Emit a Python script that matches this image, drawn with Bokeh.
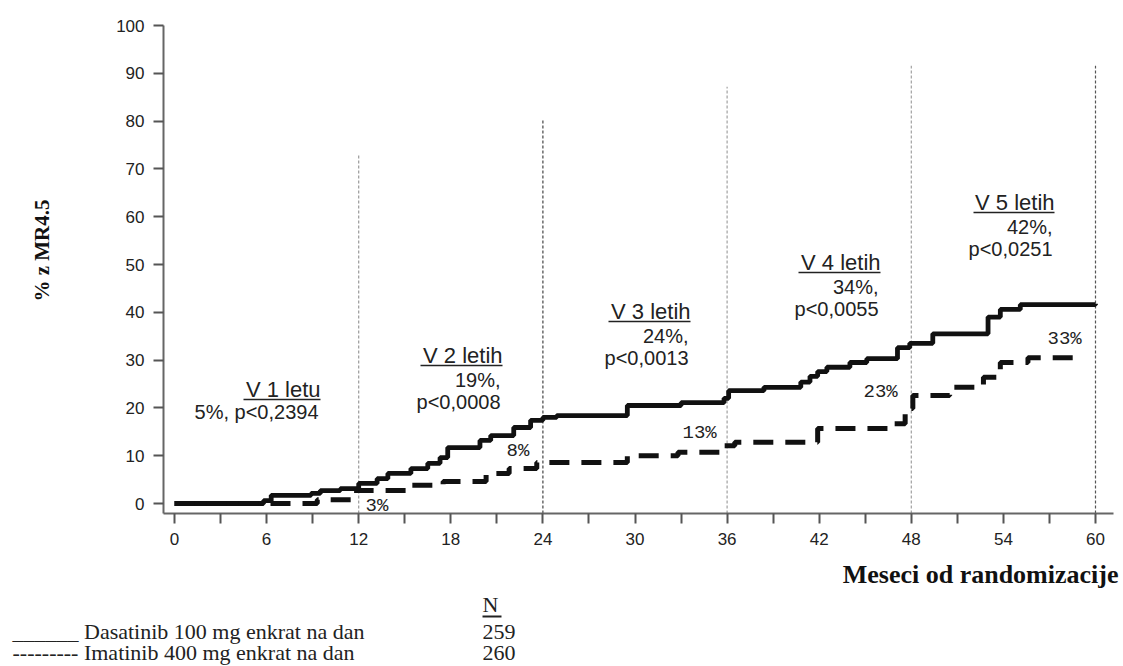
from bokeh.plotting import figure
from bokeh.models import Range1d, FixedTicker, Label
from bokeh.embed import file_html
from bokeh.resources import INLINE

# ---------------- data ----------------
dasatinib_months = [0, 5.8, 6.3, 8.9, 9.5, 10.8, 12.0, 13.2, 13.9, 15.4, 16.5, 17.3, 17.8,
                    19.9, 20.6, 22.1, 23.2, 24.0, 24.9, 29.5, 33.0, 35.8, 36.1, 38.4, 40.8,
                    41.4, 41.9, 42.5, 44.0, 45.1, 47.1, 47.9, 49.4, 53.0, 53.8, 55.1, 60.0]
dasatinib_pct = [0, 0.6, 1.7, 2.1, 2.7, 3.1, 4.2, 5.2, 6.3, 7.3, 8.4, 9.6, 11.7,
                 13.2, 14.2, 15.9, 17.4, 18.0, 18.4, 20.5, 21.1, 22.0, 23.6, 24.3, 25.4,
                 26.6, 27.6, 28.5, 29.5, 30.3, 32.6, 33.5, 35.5, 39.0, 40.6, 41.6, 41.8]

imatinib_months = [0, 9.3, 11.7, 15.3, 17.5, 20.3, 21.8, 23.6, 29.5, 32.8, 35.8, 36.5,
                   41.9, 46.8, 47.6, 48.1, 50.5, 52.7, 53.8, 55.6, 59.2]
imatinib_pct = [0, 0.8, 2.7, 3.8, 4.6, 6.3, 7.3, 8.6, 10.0, 10.7, 12.1, 12.8,
                15.7, 16.7, 19.9, 22.6, 24.3, 26.4, 29.5, 30.5, 30.5]

ref_months = [12, 24, 36, 48, 60]
ref_tops = [72.8, 80.5, 87.2, 91.6, 91.6]

year_titles = ["V 1 letu", "V 2 letih", "V 3 letih", "V 4 letih", "V 5 letih"]
year_diffs = ["5%", "19%", "24%", "34%", "42%"]
year_pvals = ["p<0,2394", "p<0,0008", "p<0,0013", "p<0,0055", "p<0,0251"]

imatinib_labels = ["3%", "8%", "13%", "23%", "33%"]

x_ticks = [0, 6, 12, 18, 24, 30, 36, 42, 48, 54, 60]
x_minor = [3, 9, 15, 21, 27, 33, 39, 45, 51, 57]
y_ticks = [0, 10, 20, 30, 40, 50, 60, 70, 80, 90, 100]

series_names = ["Dasatinib 100 mg enkrat na dan", "Imatinib 400 mg enkrat na dan"]
series_n = ["259", "260"]

# ---------------- layout helpers (canvas pixel -> data) ----------------
X0, MX = 174.0, 921.0 / 60.0
Y0, MY = 503.0, 4.78


def dx(px):
    return (px - X0) / MX


def dy(py):
    return (Y0 - py) / MY


W, H = 1123, 666
AX_L, AX_R, AX_T, AX_B = 163, 1113, 25, 513   # axis-line extents in pixels

p = figure(width=W, height=H, output_backend="svg", toolbar_location=None, title=None,
           x_range=Range1d(dx(0), dx(W)), y_range=Range1d(dy(H), dy(0)),
           min_border=0, min_border_left=0, min_border_right=0,
           min_border_top=0, min_border_bottom=0)
p.grid.visible = False
p.outline_line_color = None
p.background_fill_color = "white"
p.border_fill_color = "white"

xa, ya = p.xaxis[0], p.yaxis[0]
xa.fixed_location = dy(AX_B)
ya.fixed_location = dx(AX_L)
xa.bounds = (dx(AX_L), dx(AX_R))
ya.bounds = (dy(AX_B), dy(AX_T))

for ax in (xa, ya):
    ax.axis_line_color = "#666666"
    ax.axis_line_width = 2
    ax.major_tick_line_color = "#555555"
    ax.major_tick_line_width = 2
    ax.minor_tick_line_color = "#555555"
    ax.minor_tick_line_width = 2
    ax.major_tick_in = 0
    ax.major_tick_out = 10
    ax.minor_tick_in = 0
    ax.minor_tick_out = 10
    ax.major_label_text_font = "Liberation Sans"
    ax.major_label_text_font_size = "17px"
    ax.major_label_text_color = "#222222"
    ax.major_label_standoff = 9

xa.ticker = FixedTicker(ticks=x_ticks, minor_ticks=x_minor)
ya.ticker = FixedTicker(ticks=y_ticks, minor_ticks=[])

# reference (yearly) lines
ref_colors = ["#9a9a9a", "#444444", "#a0a0a0", "#a0a0a0", "#555555"]
p.segment(x0=ref_months, y0=[dy(AX_B)] * len(ref_months), x1=ref_months, y1=ref_tops,
          line_color=ref_colors, line_width=1.2, line_dash="3 2")

# curves
p.step(x=dasatinib_months, y=dasatinib_pct, mode="after", line_color="#111111",
       line_width=4.8)
p.step(x=imatinib_months, y=imatinib_pct, mode="after", line_color="#111111",
       line_width=5, line_dash="20 12")

TXT = "#222222"


def add_label(x, y, text, align="left", font="Liberation Sans", size="20px",
              style="normal", angle=0.0, color=TXT):
    p.add_layout(Label(x=x, y=y, text=text, text_align=align, text_baseline="middle",
                       text_font=font, text_font_size=size, text_font_style=style,
                       angle=angle, text_color=color))


def underline(x0, x1, y, width=1.6):
    p.segment(x0=[dx(x0)], y0=[dy(y)], x1=[dx(x1)], y1=[dy(y)],
              line_color=TXT, line_width=width)


# yearly annotations (pixels: right edge, title centre, underline width)
ann_right = [320, 502, 690, 880, 1054]
ann_mid = [389, 355, 311, 262, 202]
ann_ul = [77, 82, 82, 82, 81]
for i, title in enumerate(year_titles):
    r, m = ann_right[i], ann_mid[i]
    add_label(dx(r), dy(m), title, align="right", size="22px")
    underline(r - ann_ul[i], r, m + 10)
    if i == 0:
        add_label(dx(r - 2), dy(m + 22), year_diffs[i] + ", " + year_pvals[i],
                  align="right", size="20px")
    else:
        add_label(dx(r - 2), dy(m + 24), year_diffs[i] + ",", align="right", size="20px")
        add_label(dx(r - 2), dy(m + 46), year_pvals[i], align="right", size="20px")

# imatinib percentage labels (pixels: left edge, centre)
lab_left = [365, 506, 682, 863, 1047]
lab_mid = [505, 450, 432, 391, 338]
for i, t in enumerate(imatinib_labels):
    add_label(dx(lab_left[i]), dy(lab_mid[i]), t, font="Liberation Mono", size="19px")

# axis titles
add_label(dx(41), dy(250), "% z MR4.5", align="center", font="Liberation Serif",
          size="21px", style="bold", angle=1.5707963, color="#111111")
add_label(dx(1118), dy(574), "Meseci od randomizacije", align="right",
          font="Liberation Serif", size="26px", style="bold", color="#111111")

# legend block
add_label(dx(482), dy(604), "N", font="Liberation Serif", size="22px")
underline(482, 501, 616, 2)
add_label(dx(12), dy(631), "______ " + series_names[0], font="Liberation Serif",
          size="22px")
add_label(dx(12), dy(652), "--------- " + series_names[1], font="Liberation Serif",
          size="22px")
add_label(dx(482), dy(631), series_n[0], font="Liberation Serif", size="22px")
add_label(dx(482), dy(652), series_n[1], font="Liberation Serif", size="22px")

open("out.html", "w").write(file_html(p, INLINE))
